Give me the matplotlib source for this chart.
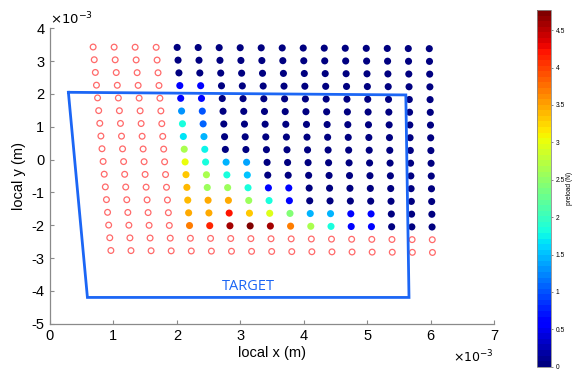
import matplotlib
matplotlib.use('Agg')
import matplotlib.pyplot as plt
import numpy as np
from matplotlib.cm import ScalarMappable
from matplotlib.colors import Normalize

plt.rcParams['font.family'] = ['Liberation Sans', 'DejaVu Sans']

# sample grid (mm): 17 x 17 points, slightly keystoned
N_COLS = 17
N_ROWS = 17
GRID_TL = (0.68, 3.43)
GRID_TR = (5.98, 3.38)
GRID_BL = (0.96, -2.77)
GRID_BR = (6.03, -2.83)
FIRST_LOADED_COL = 4
LOADED_ROWS = 15

# preload (N) at loaded points, rows top->bottom, cols 4..16
PRELOAD = [
    [0.0, 0.0, 0.0, 0.0, 0.0, 0.0, 0.0, 0.0, 0.0, 0.0, 0.0, 0.0, 0.0],
    [0.0, 0.0, 0.0, 0.0, 0.0, 0.0, 0.0, 0.0, 0.0, 0.0, 0.0, 0.0, 0.0],
    [0.0, 0.0, 0.0, 0.0, 0.0, 0.0, 0.0, 0.0, 0.0, 0.0, 0.0, 0.0, 0.0],
    [0.55, 0.55, 0.05, 0.0, 0.0, 0.0, 0.0, 0.0, 0.0, 0.0, 0.0, 0.0, 0.0],
    [0.6, 0.6, 0.0, 0.0, 0.0, 0.0, 0.0, 0.0, 0.0, 0.0, 0.0, 0.0, 0.0],
    [1.3, 1.0, 0.0, 0.0, 0.0, 0.0, 0.0, 0.0, 0.0, 0.0, 0.0, 0.0, 0.0],
    [1.85, 1.05, 0.0, 0.0, 0.0, 0.0, 0.0, 0.0, 0.0, 0.0, 0.0, 0.0, 0.0],
    [1.7, 1.45, 0.0, 0.0, 0.0, 0.0, 0.0, 0.0, 0.0, 0.0, 0.0, 0.0, 0.0],
    [2.65, 1.75, 0.0, 0.0, 0.0, 0.0, 0.0, 0.0, 0.0, 0.0, 0.0, 0.0, 0.0],
    [3.0, 1.8, 1.45, 1.4, 0.0, 0.0, 0.0, 0.0, 0.0, 0.0, 0.0, 0.0, 0.0],
    [3.3, 2.65, 1.8, 1.5, 0.0, 0.0, 0.0, 0.0, 0.0, 0.0, 0.0, 0.0, 0.0],
    [3.4, 2.6, 2.6, 1.85, 0.65, 0.6, 0.0, 0.0, 0.0, 0.0, 0.0, 0.0, 0.0],
    [3.4, 3.45, 3.45, 2.6, 1.85, 0.6, 0.0, 0.0, 0.0, 0.0, 0.0, 0.0, 0.0],
    [3.45, 3.45, 4.2, 3.3, 2.95, 2.4, 1.45, 1.45, 0.6, 0.6, 0.0, 0.0, 0.0],
    [3.7, 4.15, 4.6, 4.77, 4.6, 3.7, 2.65, 1.85, 0.6, 0.6, 0.0, 0.0, 0.0],
]
CBAR_MAX = 4.77
CBAR_TICKS = [0, 0.5, 1, 1.5, 2, 2.5, 3, 3.5, 4, 4.5]

TARGET_X = [0.29, 5.61, 5.66, 0.59, 0.29]
TARGET_Y = [2.05, 1.97, -4.2, -4.2, 2.05]

XTICKS = [0, 1, 2, 3, 4, 5, 6, 7]
YTICKS = [-5, -4, -3, -2, -1, 0, 1, 2, 3, 4]

AXIS_GREY = '#8a8a8a'
TARGET_BLUE = '#1c66f5'


def grid_points():
    u = np.linspace(0, 1, N_COLS)[None, :]
    v = np.linspace(0, 1, N_ROWS)[:, None]
    tl, tr, bl, br = map(np.array, (GRID_TL, GRID_TR, GRID_BL, GRID_BR))
    top = tl[:, None, None] + u * (tr - tl)[:, None, None]
    bot = bl[:, None, None] + u * (br - bl)[:, None, None]
    pts = top + v * (bot - top)
    return pts[0], pts[1]


def main():
    fig = plt.figure(figsize=(5.8, 3.69), dpi=100)
    ax = fig.add_axes([0.0862, 0.1228, 0.7655, 0.8005])

    gx, gy = grid_points()
    vals = np.full((N_ROWS, N_COLS), np.nan)
    vals[:LOADED_ROWS, FIRST_LOADED_COL:] = np.array(PRELOAD)
    loaded = ~np.isnan(vals)

    cmap = plt.get_cmap('jet', 64)
    norm = Normalize(vmin=0, vmax=CBAR_MAX)

    ax.scatter(gx[~loaded], gy[~loaded], s=17, facecolors='none',
               edgecolors='#ff6a6a', linewidths=0.9, zorder=2)
    ax.scatter(gx[loaded], gy[loaded], s=26, c=vals[loaded], cmap=cmap,
               norm=norm, linewidths=0, zorder=3)

    ax.plot(TARGET_X, TARGET_Y, color=TARGET_BLUE, linewidth=2.0,
            solid_joinstyle='miter', zorder=4)
    ax.text(3.12, -3.87, 'TARGET', color=TARGET_BLUE, fontsize=10.5,
            family=['Open Sans', 'DejaVu Sans'], ha='center', va='center')

    ax.set_xlim(0, 7)
    ax.set_ylim(-5, 4)
    ax.set_xticks(XTICKS)
    ax.set_yticks(YTICKS)
    ax.set_xticklabels([str(t) for t in XTICKS])
    ax.set_yticklabels([str(t) for t in YTICKS])
    for side in ('top', 'right'):
        ax.spines[side].set_visible(False)
    for side in ('left', 'bottom'):
        ax.spines[side].set_color(AXIS_GREY)
        ax.spines[side].set_linewidth(0.9)
    ax.tick_params(direction='in', length=3, width=0.8, color=AXIS_GREY,
                   labelsize=10.5, pad=4)
    ax.set_xlabel('local x (m)', fontsize=10.5, labelpad=2)
    ax.set_ylabel('local y (m)', fontsize=10.5, labelpad=4)

    # exponent markers for both axes (values plotted in mm)
    ax.text(0.0, 1.005, r'$\times10^{-3}$', transform=ax.transAxes,
            fontsize=9.5, ha='left', va='bottom')
    ax.text(1.0, -0.112, r'$\times10^{-3}$', transform=ax.transAxes,
            fontsize=9, ha='right', va='center')

    cax = fig.add_axes([0.926, 0.006, 0.0245, 0.967])
    cb = fig.colorbar(ScalarMappable(norm=norm, cmap=cmap), cax=cax,
                      ticks=CBAR_TICKS)
    cb.ax.set_yticklabels([f'{t:g}' for t in CBAR_TICKS])
    cb.outline.set_edgecolor(AXIS_GREY)
    cb.outline.set_linewidth(0.6)
    cb.ax.tick_params(labelsize=4.8, length=1.5, width=0.5, pad=1.5,
                      color='#555555')
    cb.set_label('preload (N)', fontsize=4.8, labelpad=1)

    fig.savefig('out.png', dpi=100)


if __name__ == '__main__':
    main()
